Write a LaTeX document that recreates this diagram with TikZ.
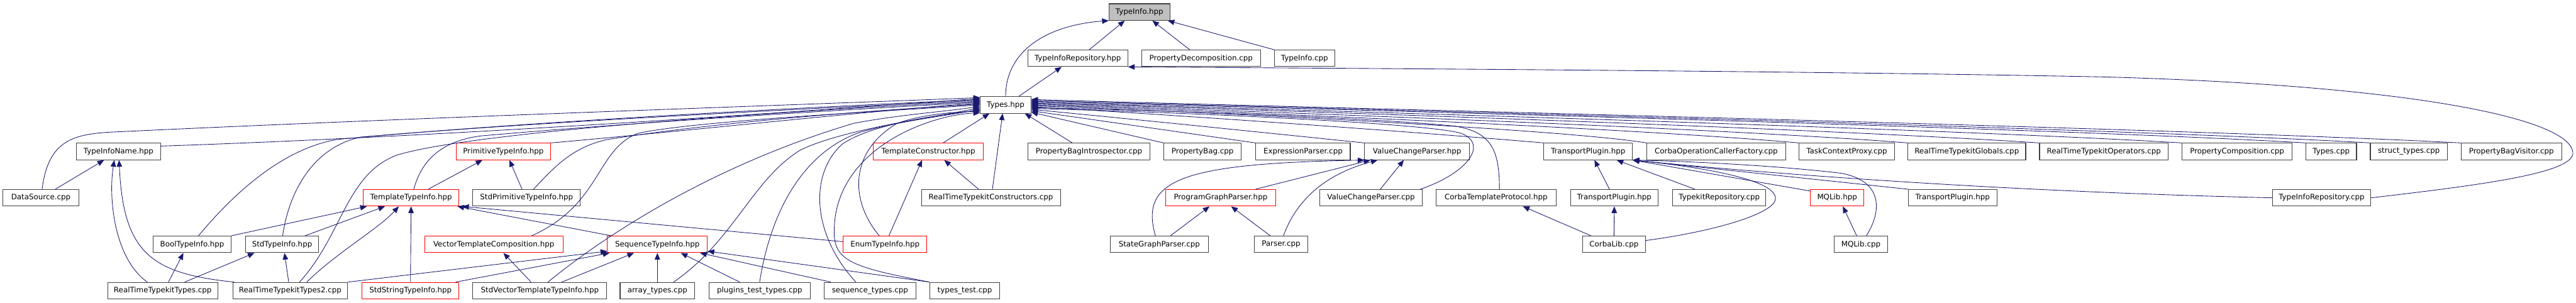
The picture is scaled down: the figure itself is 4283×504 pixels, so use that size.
\documentclass[tikz,border=0pt]{standalone}
\usepackage{fontspec}
\setmainfont{DejaVu Sans}
\usetikzlibrary{arrows.meta}
\definecolor{edgeblue}{HTML}{191970}
\definecolor{boxgray}{HTML}{404040}
\definecolor{nodefill}{HTML}{BFBFBF}
\definecolor{boxred}{HTML}{FF0000}
\begin{document}
\begin{tikzpicture}[x=1pt,y=-1pt,
  box/.style={draw=boxgray, line width=1.1pt, minimum height=27.5pt, inner sep=0pt,
    font=\fontsize{12.4}{14}\selectfont, fill=white},
  rbox/.style={box, draw=boxred},
  edge/.style={draw=edgeblue, line width=0.9pt, -{Triangle[length=11pt,width=9pt]}}]
\useasboundingbox (0,0) rectangle (4283,504);
% row 0
\node[box, fill=nodefill, minimum width=101pt] (TI) at (1894.5,20) {TypeInfo.hpp};
% row 1
\node[box, minimum width=166pt] (TIRh) at (1792,97) {TypeInfoRepository.hpp};
\node[box, minimum width=198pt] (PD) at (1997,97) {PropertyDecomposition.cpp};
\node[box, minimum width=100pt] (TIc) at (2169,97) {TypeInfo.cpp};
% row 2
\node[box, minimum width=84pt] (T) at (1672,174.5) {Types.hpp};
% row 3
\node[box, minimum width=140pt] (TIN) at (197,252) {TypeInfoName.hpp};
\node[rbox, minimum width=156pt] (PTI) at (837,252) {PrimitiveTypeInfo.hpp};
\node[rbox, minimum width=183pt] (TC) at (1543.5,252) {TemplateConstructor.hpp};
\node[box, minimum width=203pt] (PBI) at (1810.5,252) {PropertyBagIntrospector.cpp};
\node[box, minimum width=129pt] (PB) at (1999.5,252) {PropertyBag.cpp};
\node[box, minimum width=157pt] (EP) at (2166.5,252) {ExpressionParser.cpp};
\node[box, minimum width=174pt] (VCPh) at (2356,252) {ValueChangeParser.hpp};
\node[box, minimum width=147pt] (TP1) at (2640.5,252) {TransportPlugin.hpp};
\node[box, minimum width=231pt] (COCF) at (2853.5,252) {CorbaOperationCallerFactory.cpp};
\node[box, minimum width=159pt] (TCP) at (3070.5,252) {TaskContextProxy.cpp};
\node[box, minimum width=196pt] (RTG) at (3270,252) {RealTimeTypekitGlobals.cpp};
\node[box, minimum width=214pt] (RTO) at (3498,252) {RealTimeTypekitOperators.cpp};
\node[box, minimum width=183pt] (PC) at (3719.5,252) {PropertyComposition.cpp};
\node[box, minimum width=84pt] (Tc) at (3876,252) {Types.cpp};
\node[box, minimum width=128pt] (ST) at (4005,252) {struct\_types.cpp};
\node[box, minimum width=167pt] (PBV) at (4175.5,252) {PropertyBagVisitor.cpp};
% row 4
\node[box, minimum width=126pt] (DS) at (68,329) {DataSource.cpp};
\node[rbox, minimum width=159pt] (TTI) at (683.5,329) {TemplateTypeInfo.hpp};
\node[box, minimum width=179pt] (SPTI) at (875.5,329) {StdPrimitiveTypeInfo.hpp};
\node[box, minimum width=231pt] (RTC) at (1647.5,329) {RealTimeTypekitConstructors.cpp};
\node[rbox, minimum width=183pt] (PGP) at (2029.5,329) {ProgramGraphParser.hpp};
\node[box, minimum width=171pt] (VCPc) at (2279.5,329) {ValueChangeParser.cpp};
\node[box, minimum width=199pt] (CTP) at (2487.5,329) {CorbaTemplateProtocol.hpp};
\node[box, minimum width=146pt] (TP2) at (2684,329) {TransportPlugin.hpp};
\node[box, minimum width=155pt] (TKR) at (2858.5,329) {TypekitRepository.cpp};
\node[rbox, minimum width=89pt] (MQh) at (3054.5,329) {MQLib.hpp};
\node[box, minimum width=147pt] (TP3) at (3246.5,329) {TransportPlugin.hpp};
\node[box, minimum width=164pt] (TIRc) at (3860,329) {TypeInfoRepository.cpp};
% row 5
\node[box, minimum width=129pt] (BTI) at (319.5,406.5) {BoolTypeInfo.hpp};
\node[box, minimum width=122pt] (STI) at (469,406.5) {StdTypeInfo.hpp};
\node[rbox, minimum width=230pt] (VTC) at (821,406.5) {VectorTemplateComposition.hpp};
\node[rbox, minimum width=166pt] (SeqTI) at (1093,406.5) {SequenceTypeInfo.hpp};
\node[rbox, minimum width=139pt] (ETI) at (1471.5,406.5) {EnumTypeInfo.hpp};
\node[box, minimum width=163pt] (SGP) at (1927.5,406.5) {StateGraphParser.cpp};
\node[box, minimum width=88pt] (Pa) at (2130,406.5) {Parser.cpp};
\node[box, minimum width=105pt] (CL) at (2683.5,406.5) {CorbaLib.cpp};
\node[box, minimum width=88pt] (MQc) at (3094,406.5) {MQLib.cpp};
% row 6
\node[box, minimum width=183pt] (RTT) at (270.5,483.5) {RealTimeTypekitTypes.cpp};
\node[box, minimum width=191pt] (RTT2) at (482.5,483.5) {RealTimeTypekitTypes2.cpp};
\node[rbox, minimum width=161pt] (SSTI) at (682.5,483.5) {StdStringTypeInfo.hpp};
\node[box, minimum width=223pt] (SVTTI) at (897.5,483.5) {StdVectorTemplateTypeInfo.hpp};
\node[box, minimum width=124pt] (AT) at (1093,483.5) {array\_types.cpp};
\node[box, minimum width=168pt] (PTT) at (1263,483.5) {plugins\_test\_types.cpp};
\node[box, minimum width=153pt] (SeqT) at (1446.5,483.5) {sequence\_types.cpp};
\node[box, minimum width=116pt] (TT) at (1604,483.5) {types\_test.cpp};

% ---- edges: top
\draw[edge] ([xshift=19pt]TIRh.north) -- ([xshift=-24.5pt]TI.south);
\draw[edge] ([xshift=-19pt]PD.north) -- ([xshift=21.5pt]TI.south);
\draw[edge] (TIc.north west) -- ([xshift=-4pt]TI.south east);
\draw[edge] (T.north) .. controls (1672,85) and (1740,42) .. (TI.south west);
\draw[edge] ([xshift=22pt]T.north) -- ([xshift=-27pt]TIRh.south);
\draw[edge] (TIRc.east) .. controls (4150,305) and (4290,285) .. (4277,250)
  .. controls (4262,195) and (4000,142) .. (3500,128)
  .. controls (3000,118) and (2300,114) .. (TIRh.south east);

% ---- edges into Types.hpp from the left
\draw[edge] ([xshift=2pt]DS.north) .. controls (80,235) and (120,224) .. (180,220)
  .. controls (700,195) and (1400,172) .. (T.164);
\draw[edge] ([yshift=9pt]TIN.east) .. controls (800,225) and (1400,180) .. (T.166);
\draw[edge] ([xshift=10.5pt]BTI.north) .. controls (390,320) and (470,248) .. (560,232)
  .. controls (900,200) and (1400,176) .. (T.168);
\draw[edge] ([xshift=1pt]STI.north) .. controls (480,320) and (520,245) .. (600,228)
  .. controls (900,202) and (1400,178) .. (T.170);
\draw[edge] ([xshift=15.5pt]RTT2.north) .. controls (570,390) and (575,290) .. (660,258)
  .. controls (800,215) and (1400,180) .. (T.172);
\draw[edge] ([xshift=4.5pt]TTI.north) .. controls (700,270) and (730,235) .. (800,226)
  .. controls (1100,200) and (1450,180) .. (T.174);
\draw[edge] (PTI.north east) .. controls (1100,222) and (1450,184) .. (T.176);
\draw[edge] ([xshift=11.5pt]SPTI.north) .. controls (920,280) and (950,245) .. (1010,232)
  .. controls (1200,202) and (1450,184) .. (T.178);
\draw[edge] ([xshift=63pt]VTC.north) .. controls (1000,340) and (990,250) .. (1060,222)
  .. controls (1150,202) and (1450,186) .. (T.180);
\draw[edge] ([xshift=13.5pt]SVTTI.north) .. controls (1020,380) and (1200,270) .. (1420,205)
  .. controls (1500,190) and (1570,186) .. (T.183);
\draw[edge] ([xshift=27pt]AT.north) .. controls (1220,400) and (1250,300) .. (1330,250)
  .. controls (1400,215) and (1560,194) .. (T.186);
\draw[edge] (PTT.north) .. controls (1280,360) and (1330,255) .. (1430,220)
  .. controls (1500,200) and (1580,192) .. (T.189);
\draw[edge] ([xshift=-23.5pt]SeqT.north) .. controls (1350,390) and (1345,290) .. (1400,240)
  .. controls (1450,205) and (1570,190) .. (T.192);
\draw[edge] (TT.north west) .. controls (1420,445) and (1386,435) .. (1387,385)
  .. controls (1387,250) and (1540,192) .. (T.197);
\draw[edge] ([xshift=-9.5pt]ETI.north) .. controls (1410,330) and (1415,250) .. (1492,205)
  .. controls (1540,188) and (1600,186) .. (T.194);

% ---- edges into Types.hpp from below
\draw[edge] ([xshift=24.5pt]TC.north) -- ([xshift=-27pt]T.south);
\draw[edge] ([xshift=2.5pt]RTC.north) -- ([xshift=-5pt]T.south);
\draw[edge] ([xshift=-27.5pt]PBI.north) -- ([xshift=32pt]T.south);

% ---- edges into Types.hpp from the right
\draw[edge] (PB.north west) -- (T.-16);
\draw[edge] (EP.north west) -- (T.-13);
\draw[edge] (VCPh.north west) .. controls (2000,210) and (1800,190) .. (T.-10);
\draw[edge] ([xshift=82pt]VCPc.north) .. controls (2440,288) and (2475,240) .. (2430,222)
  .. controls (2380,205) and (1950,186) .. (T.-8);
\draw[edge] ([xshift=5.5pt]CTP.north) .. controls (2493,250) and (2480,220) .. (2420,210)
  .. controls (2300,197) and (1950,184) .. (T.-6);
\draw[edge] (TP1.north west) .. controls (2300,215) and (1900,188) .. (T.-4);
\draw[edge] (COCF.north west) .. controls (2600,215) and (2000,186) .. (T.-2);
\draw[edge] (TCP.north west) .. controls (2700,212) and (2000,184) .. (T.0);
\draw[edge] (RTG.north west) .. controls (2850,212) and (2000,182) .. (T.2);
\draw[edge] (RTO.north west) .. controls (3000,212) and (2050,181) .. (T.4);
\draw[edge] (PC.north west) .. controls (3200,212) and (2050,180) .. (T.6);
\draw[edge] (Tc.north west) .. controls (3400,212) and (2100,179) .. (T.8);
\draw[edge] (ST.north west) .. controls (3500,212) and (2100,178) .. (T.10);
\draw[edge] (PBV.north west) .. controls (3600,212) and (2100,177) .. (T.12);

% ---- left group
\draw[edge] ([xshift=24pt]DS.north) -- ([xshift=-24pt]TIN.south);
\draw[edge] ([xshift=-25.5pt]RTT.north) .. controls (190,430) and (180,330) .. ([xshift=-7pt]TIN.south);
\draw[edge] ([xshift=3pt]RTT2.north west) .. controls (250,455) and (205,420) .. ([xshift=1pt]TIN.south);
\draw[edge] ([xshift=9.5pt]RTT.north) -- ([xshift=-14.5pt]BTI.south);
\draw[edge] ([xshift=36.5pt]RTT.north) -- ([xshift=-46pt]STI.south);
\draw[edge] ([xshift=-2.5pt]RTT2.north) -- ([xshift=4pt]STI.south);
\draw[edge] (BTI.north east) -- ([xshift=-73.5pt]TTI.south);
\draw[edge] ([xshift=38pt]STI.north) -- ([xshift=-43.5pt]TTI.south);
\draw[edge] ([xshift=27.5pt]RTT2.north) .. controls (560,420) and (630,380) .. ([xshift=-20.5pt]TTI.south);
\draw[edge] (SSTI.north) -- (TTI.south);
\draw[edge] ([xshift=7pt]SeqTI.north west) -- ([xshift=-3pt]TTI.south east);
\draw[edge] ([yshift=4.5pt]ETI.west) -- ([xshift=5pt]TTI.south east);
\draw[edge] ([xshift=28.5pt]TTI.north) -- ([xshift=-35pt]PTI.south);
\draw[edge] ([xshift=-7.5pt]SPTI.north) -- ([xshift=10pt]PTI.south);
\draw[edge] ([xshift=-14.5pt]SVTTI.north) -- ([xshift=16pt]VTC.south);
\draw[edge] (RTT2.north east) -- ([yshift=3pt]SeqTI.south west);
\draw[edge] ([xshift=-6pt]SSTI.north east) -- ([xshift=4pt]SeqTI.south west);
\draw[edge] ([xshift=36.5pt]SVTTI.north) -- ([xshift=-39pt]SeqTI.south);
\draw[edge] (AT.north) -- (SeqTI.south);
\draw[edge] ([xshift=-33pt]PTT.north) -- ([xshift=39pt]SeqTI.south);
\draw[edge] ([xshift=12pt]SeqT.north west) -- ([xshift=71pt]SeqTI.south);
\draw[edge] (TT.north west) -- ([yshift=3pt]SeqTI.south east);
\draw[edge] ([xshift=6.5pt]ETI.north) -- ([xshift=-10.5pt]TC.south);
\draw[edge] ([xshift=-20.5pt]RTC.north) -- ([xshift=26.5pt]TC.south);

% ---- parser group
\draw[edge] ([xshift=-6.5pt]SGP.north) .. controls (1895,300) and (1960,272) .. (VCPh.south west);
\draw[edge] ([xshift=18.5pt]SGP.north) -- ([xshift=-18.5pt]PGP.south);
\draw[edge] ([xshift=-18pt]Pa.north) -- ([xshift=17.5pt]PGP.south);
\draw[edge] ([xshift=4pt]Pa.north) .. controls (2160,320) and (2220,285) .. ([xshift=22pt]VCPh.south west);
\draw[edge] ([xshift=-34pt]PGP.north east) -- ([xshift=10pt]VCPh.south west);
\draw[edge] ([xshift=15.5pt]VCPc.north) -- ([xshift=-22pt]VCPh.south);

% ---- transport group
\draw[edge] ([xshift=15pt]CL.north west) -- ([xshift=44.5pt]CTP.south);
\draw[edge] (CL.north) -- (TP2.south);
\draw[edge] ([yshift=6.5pt]CL.east) .. controls (2850,385) and (2952,355) .. (2952,330)
  .. controls (2952,295) and (2800,275) .. (TP1.south east);
\draw[edge] ([xshift=-8pt]TP2.north) -- ([xshift=10.5pt]TP1.south);
\draw[edge] ([xshift=-40.5pt]TKR.north) -- ([xshift=47.5pt]TP1.south);
\draw[edge] ([yshift=-3pt]MQh.north west) -- (TP1.south east);
\draw[edge] ([xshift=9pt]MQc.north) .. controls (3130,350) and (3130,300) .. (3060,288)
  .. controls (2950,275) and (2800,268) .. (TP1.south east);
\draw[edge] ([xshift=-7pt]MQc.north) -- ([xshift=9.5pt]MQh.south);
\draw[edge] (TP3.north west) -- (TP1.south east);
\draw[edge] (TIRc.west) .. controls (3300,318) and (2900,285) .. (TP1.south east);
\end{tikzpicture}
\end{document}
